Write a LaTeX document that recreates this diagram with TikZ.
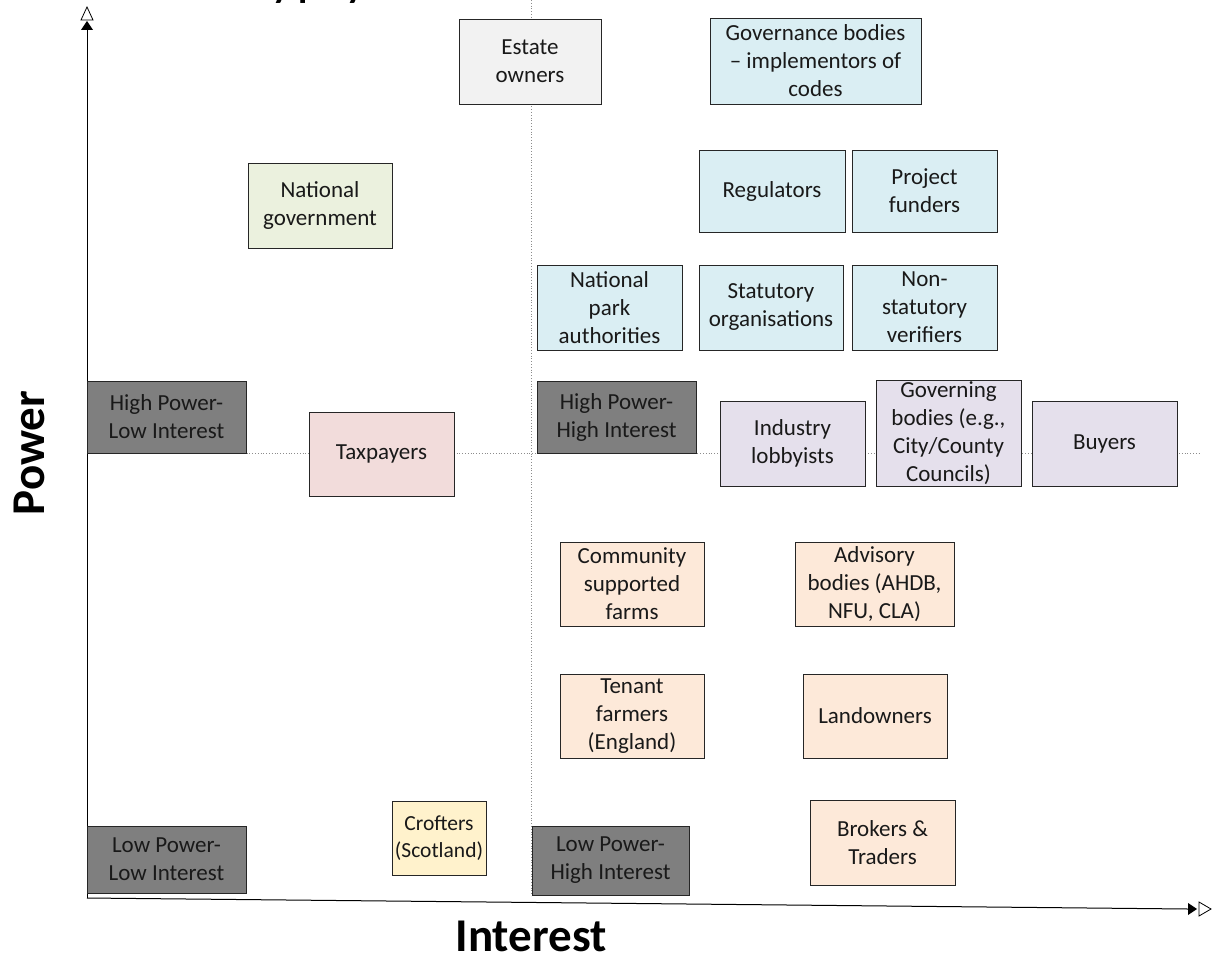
\documentclass[tikz,border=0pt]{standalone}
\usepackage{fontspec}
\setmainfont{Carlito}
\definecolor{cgray}{HTML}{F2F2F2}
\definecolor{cblue}{HTML}{DAEEF3}
\definecolor{cgreen}{HTML}{EBF1DE}
\definecolor{cdark}{HTML}{7F7F7F}
\definecolor{cpink}{HTML}{F2DCDB}
\definecolor{clav}{HTML}{E5E0EC}
\definecolor{cpeach}{HTML}{FDE9D9}
\definecolor{cyel}{HTML}{FFF2CC}
\tikzset{
  box/.style={draw=black!85, line width=0.9pt, align=center, inner sep=0pt,
    font=\fontsize{23}{28}\selectfont, text=black!90},
  midline/.style={draw=black!45, line width=0.8pt, dotted},
  axis/.style={draw=black, line width=1pt},
  biglabel/.style={inner sep=0pt, font=\bfseries\fontsize{47}{50}\selectfont}
}
\begin{document}
\begin{tikzpicture}[x=1pt,y=-1pt]
\path[use as bounding box] (0,0) rectangle (1217,960);
\clip (0,0) rectangle (1217,960);
% cut-off title
\node[anchor=base west, inner sep=0pt, font=\bfseries\fontsize{38}{40}\selectfont] (title) at (236,-2) {key players};
% mid lines
\coordinate (vt) at (531,0);
\coordinate (vb) at (531,896);
\coordinate (hl) at (87,453);
\coordinate (hr) at (1200,453);
\draw[midline] (vt) -- (vb);
\draw[midline] (hl) -- (hr);
% axes
\coordinate (o) at (87,898);
\coordinate (yt) at (87,30);
\coordinate (xt) at (1188,909);
\draw[axis] (o) -- (yt);
\draw[axis] (o) -- (xt);
\fill[black] (81,30) -- (93,30) -- (87,21) -- cycle;
\draw[black, line width=0.8pt, fill=white] (81,20) -- (93,20) -- (87,7) -- cycle;
\fill[black] (1188,903) -- (1188,915) -- (1197,909) -- cycle;
\draw[black, line width=0.8pt, fill=white] (1199,902) -- (1199,916) -- (1211,909) -- cycle;
% boxes
\node[box, fill=cgray, minimum width=142, minimum height=85] (est) at (530,61.5) {Estate\\owners};
\node[box, fill=cblue, minimum width=211, minimum height=86] (gov) at (815.5,61) {Governance bodies\\– implementors of\\codes};
\node[box, fill=cgreen, minimum width=144, minimum height=85] (natgov) at (320,205.5) {National\\government};
\node[box, fill=cblue, minimum width=146, minimum height=82] (reg) at (772,191) {Regulators};
\node[box, fill=cblue, minimum width=145, minimum height=82] (fund) at (924.5,191) {Project\\funders};
\node[box, fill=cblue, minimum width=145, minimum height=85] (npa) at (609.5,307.5) {National\\park\\authorities};
\node[box, fill=cblue, minimum width=144, minimum height=85] (stat) at (771,307.5) {Statutory\\organisations};
\node[box, fill=cblue, minimum width=145, minimum height=85] (nonstat) at (924.5,307.5) {Non-\\statutory\\verifiers};
\node[box, fill=cdark, minimum width=159, minimum height=72] (hpli) at (166.5,417) {High Power-\\Low Interest};
\node[box, fill=cpink, minimum width=145, minimum height=84] (tax) at (381.5,454) {Taxpayers};
\node[box, fill=cdark, minimum width=159, minimum height=72] (hphi) at (616.5,417) {High Power-\\High Interest};
\node[box, fill=clav, minimum width=145, minimum height=85] (lobby) at (792.5,443.5) {Industry\\lobbyists};
\node[box, fill=clav, minimum width=145, minimum height=106] (govb) at (948.5,433) {Governing\\bodies (e.g.,\\City/County\\Councils)};
\node[box, fill=clav, minimum width=145, minimum height=85] (buy) at (1104.5,443.5) {Buyers};
\node[box, fill=cpeach, minimum width=144, minimum height=84] (csf) at (632,584) {Community\\supported\\farms};
\node[box, fill=cpeach, minimum width=159, minimum height=84] (adv) at (874.5,584) {Advisory\\bodies (AHDB,\\NFU, CLA)};
\node[box, fill=cpeach, minimum width=144, minimum height=84] (tenant) at (632,716) {Tenant\\farmers\\(England)};
\node[box, fill=cpeach, minimum width=144, minimum height=84] (land) at (875,716) {Landowners};
\node[box, fill=cyel, minimum width=94, minimum height=74, font=\fontsize{21.5}{27}\selectfont] (croft) at (439,838) {Crofters\\(Scotland)};
\node[box, fill=cdark, minimum width=157, minimum height=69] (lphi) at (610.5,860.5) {Low Power-\\High Interest};
\node[box, fill=cdark, minimum width=159, minimum height=67] (lpli) at (166.5,859.5) {Low Power-\\Low Interest};
\node[box, fill=cpeach, minimum width=145, minimum height=85] (brok) at (882.5,842.5) {Brokers \&\\Traders};
% axis labels
\node[biglabel, rotate=90] (power) at (29,453) {Power};
\node[biglabel] (interest) at (531,936) {Interest};
\end{tikzpicture}
\end{document}
